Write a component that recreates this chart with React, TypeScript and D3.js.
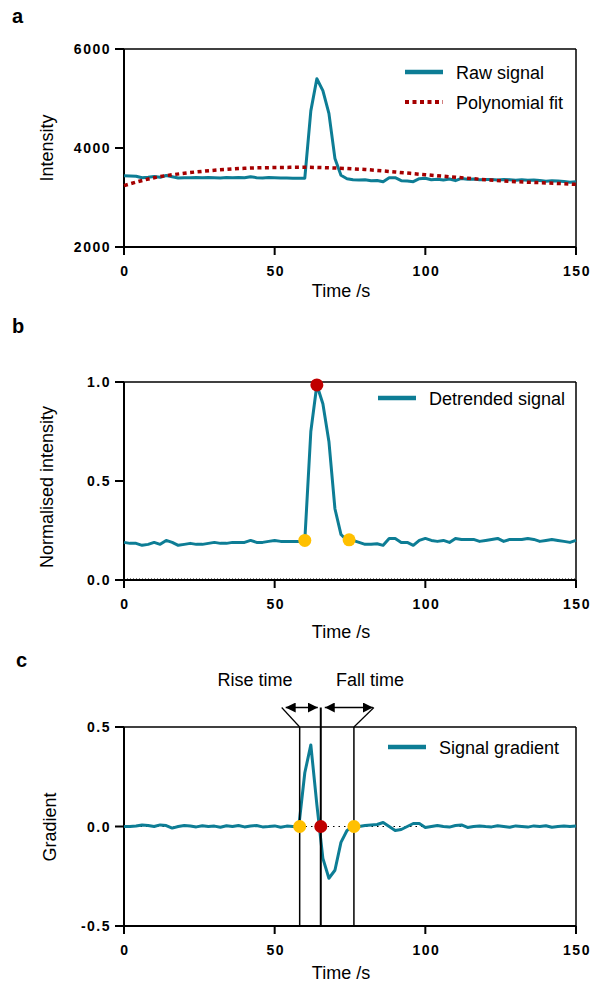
import React from 'react';
import * as d3 from 'd3';

// sample times (s), one reading every 2 s
const TIME_STEP = 2;
const time = d3.range(0, 150 + TIME_STEP, TIME_STEP);

// panel a: raw intensity
const rawSignal = [
  3440, 3435, 3430, 3400, 3410, 3425, 3410, 3445, 3420, 3395,
  3400, 3400, 3405, 3400, 3405, 3400, 3395, 3405, 3400, 3405,
  3400, 3420, 3400, 3395, 3405, 3400, 3395, 3395, 3390, 3390,
  3390, 4750, 5400, 5160, 4700, 3790, 3450, 3380, 3360, 3355,
  3360, 3340, 3345, 3320, 3400, 3400, 3340, 3335, 3320, 3380,
  3390, 3360, 3370, 3355, 3375, 3340, 3385, 3370, 3375, 3360,
  3365, 3365, 3355, 3365, 3360, 3350, 3360, 3350, 3355, 3345,
  3330, 3340, 3335, 3325, 3310, 3320,
];
const polyFitTime = [0, 10, 20, 30, 40, 50, 60, 70, 80, 90, 100, 110, 120, 130, 140, 150];
const polyFit = [3240, 3400, 3490, 3550, 3590, 3605, 3610, 3595, 3565, 3515, 3460, 3410, 3360, 3320, 3295, 3265];

// panel b: detrended, normalised
const detrended = [
  0.19, 0.185, 0.185, 0.175, 0.18, 0.19, 0.18, 0.2, 0.19, 0.175,
  0.18, 0.185, 0.18, 0.18, 0.185, 0.19, 0.185, 0.185, 0.19, 0.19,
  0.19, 0.2, 0.19, 0.19, 0.195, 0.2, 0.195, 0.195, 0.195, 0.195,
  0.2, 0.75, 0.985, 0.89, 0.7, 0.36, 0.23, 0.2, 0.2, 0.19,
  0.18, 0.18, 0.183, 0.175, 0.21, 0.21, 0.19, 0.19, 0.175, 0.2,
  0.21, 0.2, 0.195, 0.2, 0.19, 0.21, 0.205, 0.205, 0.205, 0.195,
  0.2, 0.205, 0.21, 0.195, 0.205, 0.205, 0.205, 0.21, 0.205, 0.195,
  0.2, 0.205, 0.2, 0.195, 0.19, 0.2,
];
const detrendedEdgeT = [60, 74.7];
const detrendedEdgeV = [0.2, 0.203];
const detrendedPeak = { t: 64, v: 0.985 };

// panel c: gradient
const gradient = [
  0, 0, 0.003, 0.008, 0.005, 0, 0.008, 0.005, -0.008, 0,
  0.005, 0.003, -0.002, 0.004, 0, 0.002, -0.004, 0.004, 0, 0.005,
  -0.002, 0.003, 0.005, -0.002, 0, 0.003, -0.004, 0.002, 0, 0,
  0.27, 0.41, 0.11, -0.16, -0.26, -0.22, -0.08, -0.02, 0, 0,
  0.005, 0.008, 0.01, 0.02, 0, -0.02, -0.015, 0, 0.015, 0.015,
  -0.005, 0, 0.005, 0, -0.003, 0.005, 0.008, -0.005, 0, 0.003,
  0, -0.002, 0.004, 0, -0.004, 0.003, 0, -0.003, 0.003, 0,
  0.004, -0.004, 0, 0.003, 0, 0.003,
];
const riseStart = 58.3;
const peakTime = 65.3;
const fallEnd = 76.3;

const xTicks = [0, 50, 100, 150];
const yTicksA = [2000, 4000, 6000];
const yTicksB = [0, 0.5, 1];
const yTicksC = [-0.5, 0, 0.5];

const TEAL = '#0d7d95';
const DARKRED = '#a50000';
const YELLOW = '#ffc000';
const RED = '#c00000';
const FONT = 'Liberation Sans, Arial, sans-serif';

const x = d3.scaleLinear().domain([0, 150]).range([124, 576]);
const yA = d3.scaleLinear().domain([2000, 6000]).range([247, 49]);
const yB = d3.scaleLinear().domain([0, 1]).range([580, 382]);
const yC = d3.scaleLinear().domain([-0.5, 0.5]).range([926, 727]);

const Frame = ({ y, ticks, fmt, title, titleX, titleY, xTitleY }) => {
  const [y0, y1] = y.range();
  return (
    <g>
      <line x1={x(0)} x2={x(150)} y1={y1} y2={y1} stroke="#000" strokeWidth={1.5} />
      <line x1={x(150)} x2={x(150)} y1={y1} y2={y0} stroke="#000" strokeWidth={1.5} />
      <line x1={x(0)} x2={x(0)} y1={y1} y2={y0} stroke="#000" strokeWidth={2} />
      <line x1={x(0)} x2={x(150)} y1={y0} y2={y0} stroke="#000" strokeWidth={2} />
      {ticks.map(t => (
        <g key={t}>
          <line x1={x(0) - 9} x2={x(0)} y1={y(t)} y2={y(t)} stroke="#000" strokeWidth={2} />
          <text x={x(0) - 13} y={y(t) + 5} textAnchor="end" fontWeight="bold" fontSize={14} letterSpacing={1.5}>
            {fmt(t)}
          </text>
        </g>
      ))}
      {xTicks.map(t => (
        <g key={t}>
          <line x1={x(t)} x2={x(t)} y1={y0} y2={y0 + 8} stroke="#000" strokeWidth={2} />
          <text x={x(t) + 1} y={y0 + 29} textAnchor="middle" fontWeight="bold" fontSize={14} letterSpacing={1.5}>
            {t}
          </text>
        </g>
      ))}
      <text transform={`translate(${titleX},${titleY}) rotate(-90)`} textAnchor="middle" fontSize={18}>
        {title}
      </text>
      <text x={341} y={xTitleY} textAnchor="middle" fontSize={18}>Time /s</text>
    </g>
  );
};

const Legend = ({ lx, ly, label, dashed = false }) => (
  <g>
    <line x1={lx} x2={lx + 38} y1={ly} y2={ly}
      stroke={dashed ? DARKRED : TEAL} strokeWidth={dashed ? 4 : 4.5}
      strokeDasharray={dashed ? '4,3.5' : undefined} />
    <text x={lx + 51} y={ly + 6.5} fontSize={18}>{label}</text>
  </g>
);

export default function App() {
  const lineA = d3.line<number>().x((d, i) => x(time[i])).y(d => yA(d));
  const fitA = d3.line<number>().x((d, i) => x(polyFitTime[i])).y(d => yA(d)).curve(d3.curveMonotoneX);
  const lineB = d3.line<number>().x((d, i) => x(time[i])).y(d => yB(d));
  const lineC = d3.line<number>().x((d, i) => x(time[i])).y(d => yC(d));
  const fmt1 = (v: number) => v.toFixed(1);

  const top = yC(0.5);
  const bottom = yC(-0.5);
  const arrowY = top - 19.5;
  const xr = x(riseStart), xp = x(peakTime), xf = x(fallEnd);

  return (
    <svg width={593} height={985} style={{ position: 'absolute', left: 0, top: 0 }} fontFamily={FONT}>
      <defs>
        <marker id="ah" viewBox="0 0 10 10" refX="10" refY="5" markerWidth="10" markerHeight="10"
          markerUnits="userSpaceOnUse" orient="auto-start-reverse">
          <path d="M0,0 L10,5 L0,10 z" fill="#000" />
        </marker>
      </defs>
      <rect width={593} height={985} fill="#fff" />

      {/* panel a */}
      <text x={12} y={23} fontSize={20} fontWeight="bold">a</text>
      <Frame y={yA} ticks={yTicksA} fmt={d3.format('d')} title="Intensity" titleX={53} titleY={148} xTitleY={297} />
      <path d={lineA(rawSignal) || ''} fill="none" stroke={TEAL} strokeWidth={3} strokeLinejoin="round" />
      <path d={fitA(polyFit) || ''} fill="none" stroke={DARKRED} strokeWidth={3.5} strokeDasharray="4,3.5" />
      <Legend lx={405} ly={72} label="Raw signal" />
      <Legend lx={405} ly={102} label="Polynomial fit" dashed />

      {/* panel b */}
      <text x={12} y={333} fontSize={20} fontWeight="bold">b</text>
      <Frame y={yB} ticks={yTicksB} fmt={fmt1} title="Normalised intensity" titleX={53} titleY={487} xTitleY={638} />
      <line x1={x(0)} x2={x(150)} y1={yB(0) - 1} y2={yB(0) - 1} stroke="#000" strokeWidth={1} strokeDasharray="1,2" />
      <path d={lineB(detrended) || ''} fill="none" stroke={TEAL} strokeWidth={3} strokeLinejoin="round" />
      {detrendedEdgeT.map((t, i) => (
        <circle key={t} cx={x(t)} cy={yB(detrendedEdgeV[i])} r={6.5} fill={YELLOW} />
      ))}
      <circle cx={x(detrendedPeak.t)} cy={yB(detrendedPeak.v)} r={6.5} fill={RED} />
      <Legend lx={378} ly={398} label="Detrended signal" />

      {/* panel c */}
      <text x={16} y={667} fontSize={20} fontWeight="bold">c</text>
      <Frame y={yC} ticks={yTicksC} fmt={fmt1} title="Gradient" titleX={56} titleY={827} xTitleY={979} />
      <line x1={x(0)} x2={x(150)} y1={yC(0)} y2={yC(0)} stroke="#000" strokeWidth={1.2} strokeDasharray="1.5,4" />
      <path d={lineC(gradient) || ''} fill="none" stroke={TEAL} strokeWidth={3} strokeLinejoin="round" />

      {/* rise / fall annotation */}
      <line x1={xr} x2={xr} y1={bottom} y2={top} stroke="#000" strokeWidth={1.5} />
      <line x1={xr} x2={xr - 18} y1={top} y2={arrowY} stroke="#000" strokeWidth={1.2} />
      <line x1={xf} x2={xf} y1={bottom} y2={top} stroke="#000" strokeWidth={1.5} />
      <line x1={xf} x2={xf + 20} y1={top} y2={arrowY} stroke="#000" strokeWidth={1.2} />
      <line x1={xp} x2={xp} y1={bottom} y2={arrowY} stroke="#000" strokeWidth={2} />
      <line x1={xr - 14} x2={xp - 3} y1={arrowY} y2={arrowY} stroke="#000" strokeWidth={1.5}
        markerStart="url(#ah)" markerEnd="url(#ah)" />
      <line x1={xp + 4} x2={xf + 19} y1={arrowY} y2={arrowY} stroke="#000" strokeWidth={1.5}
        markerStart="url(#ah)" markerEnd="url(#ah)" />
      <text x={255} y={686} textAnchor="middle" fontSize={18}>Rise time</text>
      <text x={370} y={686} textAnchor="middle" fontSize={18}>Fall time</text>

      <circle cx={xr} cy={yC(0)} r={6.5} fill={YELLOW} />
      <circle cx={xf} cy={yC(0)} r={6.5} fill={YELLOW} />
      <circle cx={xp} cy={yC(0)} r={6.5} fill={RED} />
      <Legend lx={388} ly={747} label="Signal gradient" />
    </svg>
  );
}
